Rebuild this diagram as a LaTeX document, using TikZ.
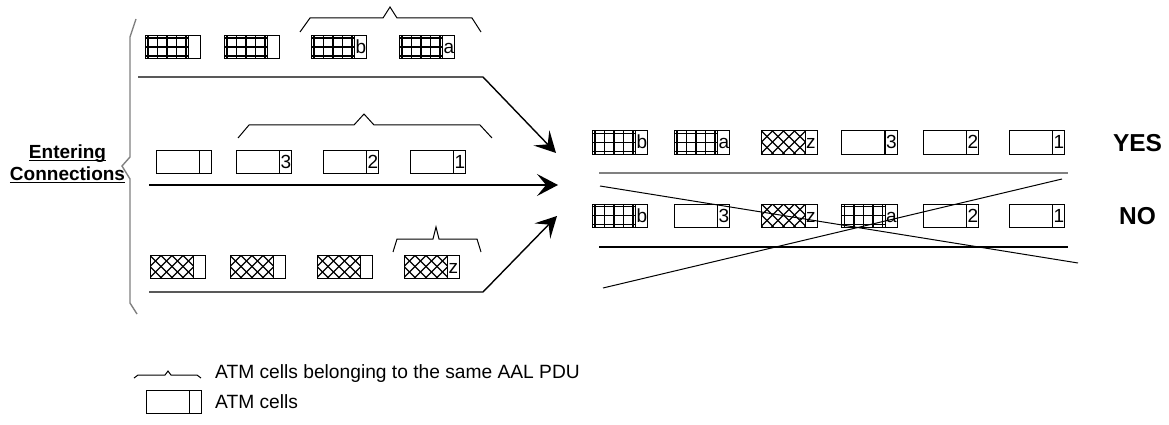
\documentclass[tikz,border=0pt]{standalone}
\usepackage{fontspec}
\setmainfont{Liberation Sans}
\usetikzlibrary{arrows.meta}

\tikzset{
  cellframe/.style={draw=black, line width=1pt},
  gridline/.style={draw=black, line width=1.1pt},
  hatchline/.style={draw=black, line width=1.2pt},
  celltext/.style={font=\fontsize{19}{19}\selectfont, inner sep=0pt, anchor=base west},
  pdubrace/.style={draw=black, line width=1pt, line join=miter},
  groupbrace/.style={draw=gray, line width=1.4pt},
  feed/.style={draw=black, line width=1.4pt, -{Stealth[length=21pt,width=22pt,inset=9pt]}},
  rowline/.style={draw=black, line width=1.1pt},
  crossline/.style={draw=black, line width=1pt},
  verdict/.style={font=\bfseries\fontsize{24.5}{24.5}\selectfont, inner sep=0pt},
  entxt/.style={font=\bfseries\fontsize{19}{19}\selectfont, inner sep=0pt, anchor=base},
  legendtxt/.style={font=\fontsize{19.2}{19.2}\selectfont, inner sep=0pt, anchor=base west},
  % plain cell: payload + header field with the sequence label
  pics/plaincell/.style={code={
    \draw[cellframe] (0,0) rectangle (55.5,23);
    \draw[draw=black, line width=1.6pt] (43.5,0) -- (43.5,23);
    \node[celltext] (-lbl) at (44.3,18) {#1};
  }},
  % cell whose payload is drawn as a square grid
  pics/gridcell/.style={code={
    \draw[gridline] (3,0)--(3,23) (12.5,0)--(12.5,23) (22,0)--(22,23)
                    (31.5,0)--(31.5,23) (41,0)--(41,23)
                    (0,2.5)--(43.5,2.5) (0,11.5)--(43.5,11.5) (0,20.5)--(43.5,20.5);
    \draw[cellframe] (0,0) rectangle (55.5,23) (43.5,0) -- (43.5,23);
    \node[celltext] (-lbl) at (44.3,18) {#1};
  }},
  % cell whose payload is cross-hatched
  pics/xcell/.style={code={
    \begin{scope}
      \clip (0,0) rectangle (43.5,23);
      \foreach \k in {-3,...,7} {
        \draw[hatchline] (\k*11,0) -- ++(23,23);
        \draw[hatchline] (\k*11,0) -- ++(-23,23);
      }
    \end{scope}
    \draw[cellframe] (0,0) rectangle (55.5,23) (43.5,0) -- (43.5,23);
    \node[celltext] (-lbl) at (44.3,18) {#1};
  }},
}

\begin{document}
\begin{tikzpicture}[x=1pt,y=-1pt]
\path[use as bounding box, fill=white] (0,0) rectangle (1169,425);

% ---------- entering connections ----------
\draw[groupbrace] (136,19) -- (130,37) -- (130,157) -- (122,166) -- (130,179)
                  -- (130,303) -- (137,314);
\node[entxt] (ent1) at (67.5,158) {Entering};
\node[entxt] (ent2) at (67.5,180) {Connections};
\draw[line width=1.3pt] ([yshift=-2.5pt]ent1.base west) -- ([yshift=-2.5pt]ent1.base east);
\draw[line width=1.3pt] ([yshift=-2.5pt]ent2.base west) -- ([yshift=-2.5pt]ent2.base east);

% connection 1
\pic (ca1) at (145,35.5) {gridcell={}};
\pic (ca2) at (224,35.5) {gridcell={}};
\pic (ca3) at (311,35.5) {gridcell=b};
\pic (ca4) at (399,35.5) {gridcell=a};
\draw[pdubrace] (300,32) -- (310,18) -- (383,18) -- (390,7) -- (397,18) -- (472,18) -- (481,32);

% connection 2
\pic (cb1) at (156,150) {plaincell={}};
\pic (cb2) at (236,150) {plaincell=3};
\pic (cb3) at (323,150) {plaincell=2};
\pic (cb4) at (410,150) {plaincell=1};
\draw[pdubrace] (238,138) -- (249,125) -- (354,125) -- (364,114) -- (374,125) -- (480,125) -- (492,138);

% connection 3
\pic (cc1) at (150,255.5) {xcell={}};
\pic (cc2) at (230,255.5) {xcell={}};
\pic (cc3) at (317,255.5) {xcell={}};
\pic (cc4) at (404,255.5) {xcell=z};
\draw[pdubrace] (393,252) -- (397,239) -- (433,239) -- (436,227) -- (439,239) -- (477,239) -- (481,252);

% feeds into the multiplexed output
\coordinate (inA) at (138,77);  \coordinate (bendA) at (483,77);  \coordinate (tipA) at (556,153);
\coordinate (inB) at (149,185); \coordinate (tipB) at (558,185);
\coordinate (inC) at (149,292); \coordinate (bendC) at (483,292); \coordinate (tipC) at (557,216);
\draw[feed] (inA) -- (bendA) -- (tipA);
\draw[feed] (inB) -- (tipB);
\draw[feed] (inC) -- (bendC) -- (tipC);

% ---------- output orders ----------
\pic (y1) at (592,131)  {gridcell=b};
\pic (y2) at (674,131)  {gridcell=a};
\pic (y3) at (761.5,131) {xcell=z};
\pic (y4) at (841.5,131) {plaincell=3};
\pic (y5) at (923,131)  {plaincell=2};
\pic (y6) at (1009,131) {plaincell=1};
\node[verdict] (yes) at (1137.5,143) {YES};
\coordinate (yl1) at (599,173); \coordinate (yl2) at (1068,173);
\draw[draw=gray, line width=1.7pt] (yl1) -- (yl2);

\pic (n1) at (592,204)  {gridcell=b};
\pic (n2) at (674,204)  {plaincell=3};
\pic (n3) at (761.5,204) {xcell=z};
\pic (n4) at (841.5,204) {gridcell=a};
\pic (n5) at (923,204)  {plaincell=2};
\pic (n6) at (1009,204) {plaincell=1};
\node[verdict] (no) at (1137.5,216) {NO};
\coordinate (nl1) at (599,247); \coordinate (nl2) at (1068,247);
\draw[rowline] (nl1) -- (nl2);

% the wrong order is crossed out
\coordinate (xa1) at (600,186); \coordinate (xa2) at (1078,263);
\coordinate (xb1) at (603,288); \coordinate (xb2) at (1062,179);
\draw[crossline] (xa1) -- (xa2);
\draw[crossline] (xb1) -- (xb2);

% ---------- legend ----------
\draw[pdubrace] (134,378) -- (138,375) -- (165,375) -- (168,371) -- (171,375) -- (197,375) -- (201,378);
\node[legendtxt] (leg1) at (215,378) {ATM cells belonging to the same AAL PDU};
\pic (lg) at (146,390) {plaincell={}};
\node[legendtxt] (leg2) at (215,408) {ATM cells};
\end{tikzpicture}
\end{document}
